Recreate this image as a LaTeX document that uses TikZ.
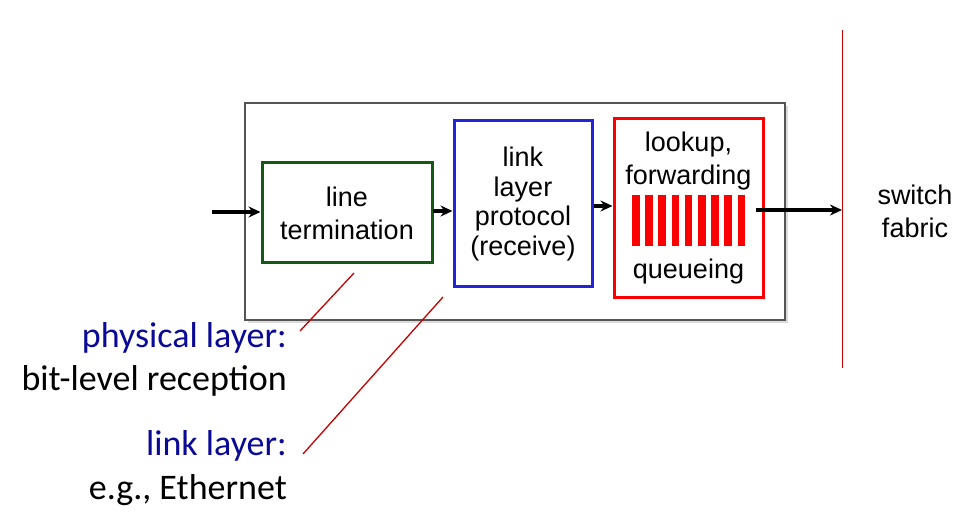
\documentclass[tikz,border=0pt]{standalone}
\usepackage{fontspec}
\setmainfont{Liberation Sans}
\newfontfamily\labelfont{Carlito}
\usepackage{tikz}
\usetikzlibrary{arrows.meta,shapes,positioning,shadows}
\usepackage{xcolor}
\definecolor{rtgray}{RGB}{85,85,85}
\definecolor{rtgreen}{RGB}{20,90,20}
\definecolor{rtblue}{RGB}{35,35,215}
\definecolor{rtred}{RGB}{250,0,0}
\definecolor{rtnavy}{RGB}{10,10,150}
\definecolor{rtleader}{RGB}{200,0,0}
\tikzstyle{arrow} = [line width=3.4pt,-{Stealth[length=12pt,width=11pt]},color=black]
\tikzstyle{leader} = [line width=1.3pt,color=rtleader]

\begin{document}
\begin{tikzpicture}[
    x=1pt, y=-1pt,
    every node/.style={font=\fontsize{27}{33}\selectfont, align=center},
    box/.style={rectangle, line width=3pt, minimum width=#1, align=center, inner sep=0pt},
    note/.style={anchor=east, inner sep=0pt, font=\labelfont\fontsize{36}{43}\selectfont}
]
\useasboundingbox[fill=white] (0,0) rectangle (978,521);

% Outer port box
\node[rectangle, draw=rtgray, line width=1.8pt, fill=white, minimum width=540pt, minimum height=217pt,
      drop shadow={shadow xshift=3pt, shadow yshift=-3pt, fill=gray!55}] (port) at (515,211.5) {};

% Processing stages
\node[box=170pt, draw=rtgreen, minimum height=100pt] (term) at (347,213) {line\\termination};
\node[box=138pt, draw=rtblue, minimum height=166pt, font=\fontsize{27}{29.5}\selectfont] (proto) at (523,204) {link\\layer\\protocol\\(receive)};
\node[box=149pt, draw=rtred, minimum height=179pt] (lookup) at (688.5,208.5) {};
\node (fwd) at (688.5,161) {lookup,\\forwarding};
\node (queue) at (688.5,272) {queueing};

% Queue buffers
\foreach \i in {0,...,8}
  \fill[rtred] (632+\i*13.2,195) rectangle ++(7.5,51);

% Switch fabric
\coordinate (fabtop) at (842,30);
\coordinate (fabbot) at (842,368);
\draw[rtleader, line width=1pt] (fabtop) -- (fabbot);
\node (fabric) at (915,211) {switch\\fabric};

% Arrows
\coordinate (in) at (212,212);
\coordinate (out) at (756,210);
\draw[arrow] (in) -- (in -| term.west);
\draw[arrow] (433,211) -- (proto.west |- 0,211);
\draw[arrow] (proto.east |- 0,206) -- (lookup.west |- 0,206);
\draw[arrow] (out) -- (out -| fabtop);

% Layer notes
\node[note, text=rtnavy] (phys) at (287,338) {physical layer:};
\node[note] (physdesc) at (287,381) {bit-level reception};
\node[note, text=rtnavy] (link) at (287,446) {link layer:};
\node[note] (linkdesc) at (287,490) {e.g., Ethernet};

% Leaders
\coordinate (physend) at (354,273);
\coordinate (physstart) at (300,331);
\coordinate (linkend) at (443,297);
\coordinate (linkstart) at (303,454);
\draw[leader] (physend) -- (physstart);
\draw[leader] (linkend) -- (linkstart);

\end{tikzpicture}
\end{document}
